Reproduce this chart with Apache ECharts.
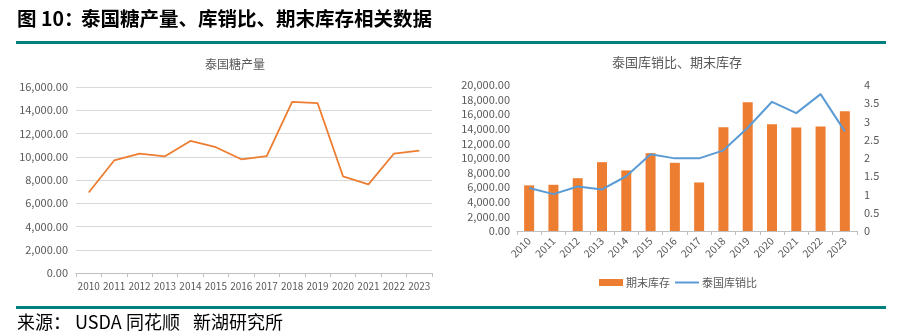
<!DOCTYPE html>
<html><head><meta charset="utf-8">
<script src="https://cdn.jsdelivr.net/npm/echarts@6/dist/echarts.min.js"></script>
<style>html,body{margin:0;padding:0;background:#fff}#c{width:901px;height:336px}</style>
</head><body><div id="c"></div>
<script>
var years = ['2010','2011','2012','2013','2014','2015','2016','2017','2018','2019','2020','2021','2022','2023'];
var production = [6930,9680,10260,10040,11360,10820,9780,10060,14720,14620,8320,7630,10260,10530];
var endingStock = [6250,6330,7230,9430,8300,10660,9340,6650,14220,17630,14630,14170,14310,16400];
var stockRatio = [1.18,1.01,1.22,1.14,1.50,2.10,1.99,1.99,2.21,2.83,3.54,3.23,3.75,2.73];

var FONT = '"Noto Sans CJK SC", "Noto Sans", sans-serif';
var gray = '#595959';
var chart = echarts.init(document.getElementById('c'));
function fmt2(v){ return Number(v).toLocaleString('en-US',{minimumFractionDigits:2,maximumFractionDigits:2}); }
chart.setOption({
  animation:false,
  textStyle:{fontFamily:FONT},
  title:[
    {text:'泰国糖产量', left:230, top:53, textAlign:'center', textStyle:{fontSize:12, fontWeight:'normal', color:gray, fontFamily:FONT}},
    {text:'泰国库销比、期末库存', left:672, top:51, textAlign:'center', textStyle:{fontSize:13, fontWeight:'normal', color:gray, fontFamily:FONT}}
  ],
  graphic:[
    {type:'text', left:17, top:9, style:{text:'图 10：', font:'bold 19.5px '+FONT, fill:'#000'}},
    {type:'text', left:81, top:9, style:{text:'泰国糖产量、库销比、期末库存相关数据', font:'bold 19.5px '+FONT, fill:'#000'}},
    {type:'rect', shape:{x:16,y:41,width:870,height:3}, style:{fill:'#007F7F'}},
    {type:'rect', shape:{x:16,y:306,width:870,height:3}, style:{fill:'#007F7F'}},
    {type:'text', left:17, top:313, style:{text:'来源：', font:'18px '+FONT, fill:'#000'}},
    {type:'text', left:75, top:313, style:{text:'USDA', font:'18px '+FONT, fill:'#000'}},
    {type:'text', left:126, top:313, style:{text:'同花顺', font:'18px '+FONT, fill:'#000'}},
    {type:'text', left:193, top:313, style:{text:'新湖研究所', font:'18px '+FONT, fill:'#000'}}
  ],
  legend:{
    data:[{name:'期末库存', icon:'rect'},{name:'泰国库销比', itemStyle:{opacity:0}}],
    left:594, top:272, itemWidth:24, itemHeight:7, itemGap:4,
    textStyle:{fontSize:11, color:gray, fontFamily:FONT, padding:[0,0,0,-2]}
  },
  grid:[
    {left:76, top:87, width:356, height:186},
    {left:517, top:85, width:340, height:146}
  ],
  xAxis:[
    {type:'category', gridIndex:0, data:years, boundaryGap:true,
     axisLine:{lineStyle:{color:'#BFBFBF'}}, axisTick:{show:true, length:4, lineStyle:{color:'#BFBFBF'}},
     axisLabel:{color:gray, fontSize:10, margin:8, interval:0}},
    {type:'category', gridIndex:1, data:years, boundaryGap:true,
     axisLine:{lineStyle:{color:'#BFBFBF'}}, axisTick:{show:true, length:4, lineStyle:{color:'#BFBFBF'}},
     axisLabel:{color:gray, fontSize:10.5, rotate:45, margin:8, interval:0}}
  ],
  yAxis:[
    {type:'value', gridIndex:0, min:0, max:16000, interval:2000,
     axisLine:{show:false}, axisTick:{show:false},
     splitLine:{lineStyle:{color:'#D9D9D9'}},
     axisLabel:{color:gray, fontSize:11, formatter:fmt2, margin:8}},
    {type:'value', gridIndex:1, min:0, max:20000, interval:2000,
     axisLine:{show:false}, axisTick:{show:false}, splitLine:{show:false},
     axisLabel:{color:gray, fontSize:11, formatter:fmt2, margin:7}},
    {type:'value', gridIndex:1, position:'right', min:0, max:4, interval:0.5,
     axisLine:{show:false}, axisTick:{show:false}, splitLine:{show:false},
     axisLabel:{color:gray, fontSize:11, margin:7}}
  ],
  series:[
    {name:'泰国糖产量', type:'line', xAxisIndex:0, yAxisIndex:0, data:production, symbol:'none',
     lineStyle:{color:'#ED7D31', width:1.8}, itemStyle:{color:'#ED7D31'}},
    {name:'期末库存', type:'bar', xAxisIndex:1, yAxisIndex:1, data:endingStock, barWidth:10,
     itemStyle:{color:'#ED7D31'}},
    {name:'泰国库销比', type:'line', xAxisIndex:1, yAxisIndex:2, data:stockRatio, symbol:'none',
     lineStyle:{color:'#5B9BD5', width:2}, itemStyle:{color:'#5B9BD5'}}
  ]
});
</script></body></html>
